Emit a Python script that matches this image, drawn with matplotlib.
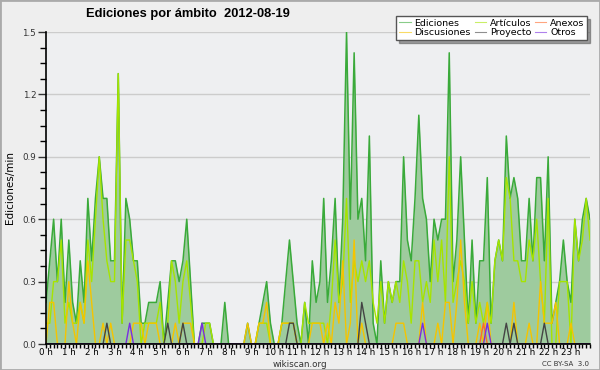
import numpy as np
import matplotlib
matplotlib.use("Agg")
import matplotlib.pyplot as plt
from matplotlib.patches import Rectangle

# edits per minute, one value per 10-minute slot (00:00 .. 23:50)
ediciones = [
    0.2, 0.4, 0.6, 0.3, 0.6, 0.2, 0.5, 0.2, 0.1, 0.4, 0.2, 0.7,
    0.4, 0.7, 0.9, 0.7, 0.7, 0.4, 0.4, 1.3, 0.1, 0.7, 0.6, 0.4,
    0.4, 0.1, 0.1, 0.2, 0.2, 0.2, 0.3, 0.0, 0.2, 0.4, 0.4, 0.3,
    0.4, 0.6, 0.3, 0.0, 0.0, 0.1, 0.1, 0.1, 0.0, 0.0, 0.0, 0.2,
    0.0, 0.0, 0.0, 0.0, 0.0, 0.1, 0.0, 0.0, 0.1, 0.2, 0.3, 0.1,
    0.0, 0.0, 0.1, 0.3, 0.5, 0.3, 0.1, 0.0, 0.2, 0.0, 0.4, 0.2,
    0.3, 0.7, 0.2, 0.4, 0.7, 0.2, 0.6, 1.5, 0.6, 1.4, 0.6, 0.7,
    0.4, 1.0, 0.1, 0.0, 0.4, 0.1, 0.3, 0.2, 0.3, 0.3, 0.9, 0.5,
    0.4, 0.7, 1.1, 0.7, 0.6, 0.3, 0.6, 0.5, 0.6, 0.6, 1.4, 0.3,
    0.5, 0.9, 0.5, 0.1, 0.5, 0.1, 0.4, 0.4, 0.8, 0.1, 0.4, 0.5,
    0.4, 1.0, 0.7, 0.8, 0.7, 0.4, 0.4, 0.7, 0.4, 0.8, 0.8, 0.4,
    0.9, 0.1, 0.2, 0.3, 0.5, 0.3, 0.2, 0.6, 0.4, 0.6, 0.7, 0.6,
]
articulos = [
    0.1, 0.1, 0.3, 0.3, 0.5, 0.1, 0.2, 0.1, 0.1, 0.2, 0.1, 0.5,
    0.3, 0.6, 0.9, 0.6, 0.4, 0.3, 0.3, 1.3, 0.1, 0.5, 0.5, 0.4,
    0.3, 0.0, 0.1, 0.1, 0.1, 0.1, 0.2, 0.0, 0.1, 0.4, 0.3, 0.1,
    0.3, 0.4, 0.2, 0.0, 0.0, 0.0, 0.1, 0.1, 0.0, 0.0, 0.0, 0.0,
    0.0, 0.0, 0.0, 0.0, 0.0, 0.0, 0.0, 0.0, 0.1, 0.1, 0.1, 0.0,
    0.0, 0.0, 0.1, 0.1, 0.1, 0.1, 0.0, 0.0, 0.2, 0.1, 0.1, 0.1,
    0.1, 0.1, 0.0, 0.2, 0.5, 0.2, 0.3, 0.7, 0.2, 0.4, 0.3, 0.4,
    0.3, 0.4, 0.2, 0.1, 0.3, 0.1, 0.3, 0.2, 0.3, 0.2, 0.4, 0.3,
    0.1, 0.4, 0.4, 0.2, 0.3, 0.2, 0.5, 0.3, 0.5, 0.2, 0.9, 0.2,
    0.3, 0.4, 0.3, 0.1, 0.3, 0.1, 0.2, 0.1, 0.2, 0.1, 0.4, 0.5,
    0.4, 0.8, 0.7, 0.4, 0.4, 0.3, 0.3, 0.5, 0.4, 0.6, 0.3, 0.1,
    0.7, 0.0, 0.0, 0.3, 0.3, 0.3, 0.0, 0.6, 0.4, 0.5, 0.7, 0.5,
]
discusiones = [
    0.0, 0.2, 0.2, 0.0, 0.0, 0.0, 0.3, 0.1, 0.0, 0.2, 0.1, 0.4,
    0.2, 0.0, 0.0, 0.1, 0.0, 0.1, 0.0, 0.0, 0.0, 0.0, 0.0, 0.1,
    0.1, 0.1, 0.0, 0.1, 0.1, 0.1, 0.0, 0.0, 0.0, 0.0, 0.1, 0.0,
    0.1, 0.1, 0.1, 0.0, 0.0, 0.0, 0.0, 0.0, 0.0, 0.0, 0.0, 0.0,
    0.0, 0.0, 0.0, 0.0, 0.0, 0.1, 0.0, 0.0, 0.1, 0.1, 0.2, 0.0,
    0.0, 0.0, 0.1, 0.1, 0.1, 0.1, 0.0, 0.0, 0.0, 0.0, 0.1, 0.1,
    0.1, 0.0, 0.1, 0.0, 0.2, 0.1, 0.4, 0.0, 0.1, 0.5, 0.0, 0.1,
    0.0, 0.0, 0.0, 0.0, 0.0, 0.0, 0.0, 0.0, 0.1, 0.1, 0.1, 0.0,
    0.0, 0.0, 0.0, 0.2, 0.0, 0.0, 0.0, 0.1, 0.0, 0.2, 0.2, 0.0,
    0.2, 0.5, 0.2, 0.0, 0.0, 0.0, 0.1, 0.0, 0.2, 0.0, 0.0, 0.0,
    0.0, 0.0, 0.0, 0.2, 0.0, 0.0, 0.0, 0.1, 0.0, 0.0, 0.3, 0.1,
    0.1, 0.1, 0.2, 0.0, 0.0, 0.0, 0.1, 0.0, 0.0, 0.0, 0.0, 0.0,
]
# sparse series: slot index -> edits/min
proyecto = {16: 0.1, 32: 0.1, 36: 0.1, 64: 0.1, 65: 0.1, 83: 0.2, 84: 0.1,
            121: 0.1, 123: 0.1, 131: 0.1}
otros = {22: 0.1, 41: 0.1, 99: 0.1, 116: 0.1}
anexos = {115: 0.1}

n_slots = 144
hour_labels = ["%d h" % h for h in range(24)]


def dense(sparse):
    vals = np.zeros(n_slots)
    for k, v in sparse.items():
        vals[k] = v
    return vals


x = np.arange(n_slots)

fig = plt.figure(figsize=(6, 3.7), dpi=100, facecolor="#eeeeee")
ax = fig.add_axes([46 / 600, 26 / 370, 544 / 600, 312 / 370])
ax.set_facecolor("#eeeff1")

ax.fill_between(x, ediciones, color="#9ecb9e", lw=0, zorder=2)
ax.plot(x, ediciones, color="#3aaa3a", lw=1.1, label="Ediciones", zorder=3)
ax.plot(x, articulos, color="#a6e400", lw=1.0, label="Artículos", zorder=4)
ax.plot(x, dense(anexos), color="#ff6a2a", lw=1.0, label="Anexos", zorder=5)
ax.plot(x, discusiones, color="#f5c400", lw=1.0, label="Discusiones", zorder=4)
ax.plot(x, dense(proyecto), color="#444444", lw=1.0, label="Proyecto", zorder=6)
ax.plot(x, dense(otros), color="#7a2ee0", lw=1.0, label="Otros", zorder=6)

ax.set_xlim(0, n_slots - 1)
ax.set_ylim(0, 1.5)
ax.set_yticks(np.arange(0, 1.51, 0.3))
ax.set_yticklabels(["%.1f" % v for v in np.arange(0, 1.51, 0.3)])
ax.set_yticks(np.arange(0, 1.51, 0.075), minor=True)
ax.set_xticks(np.arange(0, n_slots, 6))
ax.set_xticklabels(hour_labels)
ax.set_xticks(x, minor=True)
ax.yaxis.grid(True, color="#cccccc", lw=1)
ax.set_axisbelow(True)
for s in ("top", "right"):
    ax.spines[s].set_visible(False)
for s in ("left", "bottom"):
    ax.spines[s].set_color("black")
    ax.spines[s].set_linewidth(1.2)
    ax.spines[s].set_zorder(10)
ax.tick_params(axis="y", which="major", length=6, width=1, labelsize=6.3,
               colors="#333333", pad=1)
ax.tick_params(axis="y", which="minor", length=4, width=1)
ax.tick_params(axis="x", which="both", length=3, width=1, labelsize=6.3,
               colors="black", pad=0)
ax.set_ylabel("Ediciones/min", fontsize=7.5, labelpad=5)

fig.text(0.143, 0.962, "Ediciones por ámbito  2012-08-19", fontsize=9.3,
         fontweight="bold", family="Liberation Sans", ha="left", va="center")
fig.text(0.5, 0.014, "wikiscan.org", fontsize=6.3, color="#333333",
         ha="center", va="center")
fig.text(0.982, 0.016, "CC BY-SA  3.0", fontsize=5, color="#333333",
         ha="right", va="center")

handles, labels = ax.get_legend_handles_labels()
order = ["Ediciones", "Discusiones", "Artículos", "Proyecto", "Anexos", "Otros"]
hmap = dict(zip(labels, handles))
leg = fig.legend([hmap[k] for k in order], order, ncol=3, loc="upper right",
                 bbox_to_anchor=(592 / 600, 1 - 11 / 370), fontsize=6.8,
                 frameon=True, fancybox=False, shadow=True, borderpad=0.3,
                 labelspacing=0.05, columnspacing=0.4, handlelength=1.2,
                 handletextpad=0.4)
leg.get_frame().set_edgecolor("#555555")
leg.get_frame().set_linewidth(1)
for line in leg.get_lines():
    line.set_linewidth(0.8)
    line.set_alpha(0.6)

fig.patches.append(Rectangle((0, 0), 1, 1, transform=fig.transFigure,
                             fill=False, edgecolor="#aaaaaa", lw=2))

fig.savefig("out.png", dpi=100, facecolor=fig.get_facecolor())
